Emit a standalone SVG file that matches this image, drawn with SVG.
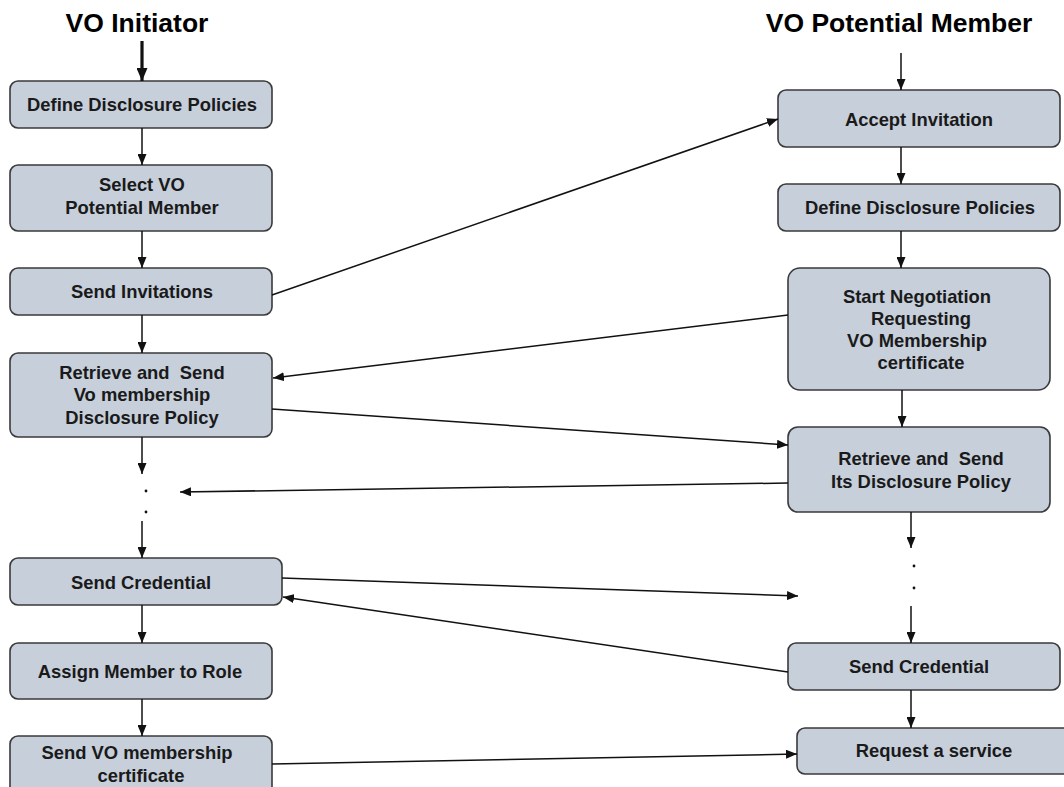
<svg xmlns="http://www.w3.org/2000/svg" width="1064" height="787" viewBox="0 0 1064 787">
<defs>
<marker id="ah" markerUnits="userSpaceOnUse" markerWidth="11" markerHeight="9" refX="11" refY="4.5" orient="auto"><path d="M0,0 L11,4.5 L0,9 z" fill="#111"/></marker>
<marker id="ahb" markerUnits="userSpaceOnUse" markerWidth="13" markerHeight="11" refX="13" refY="5.5" orient="auto"><path d="M0,0 L13,5.5 L0,11 z" fill="#111"/></marker>
</defs>
<style>
.box{fill:#c6cfda;stroke:#3a3a3a;stroke-width:1.6}
.t{font-family:"Liberation Sans",Arial,sans-serif;font-weight:bold;font-size:18.4px;fill:#1a1a1a;text-anchor:middle}
.title{font-family:"Liberation Sans",Arial,sans-serif;font-weight:bold;font-size:26.5px;fill:#000;text-anchor:middle}
.c{stroke:#111;stroke-width:1.5;fill:none;marker-end:url(#ah)}
.dot{fill:#111}
</style>
<rect width="1064" height="787" fill="#fff"/>
<text class="title" x="137" y="32">VO Initiator</text>
<text class="title" x="899" y="32">VO Potential Member</text>

<g id="l1"><rect class="box" x="10" y="81" width="262" height="47" rx="8"/><text class="t" x="142" y="111">Define Disclosure Policies</text></g>
<g id="l2"><rect class="box" x="10" y="165" width="262" height="66" rx="8"/><text class="t" x="142" y="191">Select VO</text><text class="t" x="142" y="214">Potential Member</text></g>
<g id="l3"><rect class="box" x="10" y="268" width="262" height="47" rx="8"/><text class="t" x="142" y="298">Send Invitations</text></g>
<g id="l4"><rect class="box" x="10" y="353" width="262" height="84" rx="8"/><text class="t" x="142" y="379" xml:space="preserve">Retrieve and  Send</text><text class="t" x="142" y="401">Vo membership</text><text class="t" x="142" y="424">Disclosure Policy</text></g>
<g id="l5"><rect class="box" x="10" y="558" width="272" height="47" rx="8"/><text class="t" x="141" y="589">Send Credential</text></g>
<g id="l6"><rect class="box" x="10" y="643" width="262" height="56" rx="8"/><text class="t" x="140" y="678">Assign Member to Role</text></g>
<g id="l7"><rect class="box" x="10" y="736" width="262" height="60" rx="8"/><text class="t" x="137" y="759">Send VO membership</text><text class="t" x="141" y="782">certificate</text></g>

<g id="r1"><rect class="box" x="778" y="90" width="282" height="57" rx="8"/><text class="t" x="919" y="126">Accept Invitation</text></g>
<g id="r2"><rect class="box" x="778" y="184" width="282" height="47" rx="8"/><text class="t" x="920" y="214">Define Disclosure Policies</text></g>
<g id="r3"><rect class="box" x="788" y="268" width="262" height="122" rx="12"/><text class="t" x="917" y="303">Start Negotiation</text><text class="t" x="921" y="325">Requesting</text><text class="t" x="917" y="347">VO Membership</text><text class="t" x="921" y="369">certificate</text></g>
<g id="r4"><rect class="box" x="788" y="427" width="262" height="85" rx="10"/><text class="t" x="921" y="465" xml:space="preserve">Retrieve and  Send</text><text class="t" x="921" y="488">Its Disclosure Policy</text></g>
<g id="r5"><rect class="box" x="788" y="643" width="272" height="47" rx="8"/><text class="t" x="919" y="673">Send Credential</text></g>
<g id="r6"><rect class="box" x="797" y="728" width="275" height="46" rx="8"/><text class="t" x="934" y="757">Request a service</text></g>

<g id="dots">
<circle class="dot" cx="146" cy="491" r="1.4"/><circle class="dot" cx="146" cy="512" r="1.4"/>
<circle class="dot" cx="914" cy="566" r="1.4"/><circle class="dot" cx="914" cy="588" r="1.4"/>
</g>

<g id="connectors">
<line x1="142" y1="41" x2="142" y2="81" stroke="#111" stroke-width="3.2" marker-end="url(#ahb)"/>
<line class="c" x1="142" y1="128" x2="142" y2="165"/>
<line class="c" x1="142" y1="231" x2="142" y2="268"/>
<line class="c" x1="142" y1="315" x2="142" y2="353"/>
<line class="c" x1="142" y1="437" x2="142" y2="474"/>
<line class="c" x1="142" y1="521" x2="142" y2="558"/>
<line class="c" x1="142" y1="605" x2="142" y2="643"/>
<line class="c" x1="142" y1="699" x2="142" y2="736"/>

<line class="c" x1="901" y1="53" x2="901" y2="90"/>
<line class="c" x1="901" y1="147" x2="901" y2="184"/>
<line class="c" x1="901" y1="231" x2="901" y2="268"/>
<line class="c" x1="902" y1="390" x2="902" y2="427"/>
<line class="c" x1="911" y1="512" x2="911" y2="548"/>
<line class="c" x1="911" y1="606" x2="911" y2="643"/>
<line class="c" x1="911" y1="690" x2="911" y2="728"/>

<line class="c" x1="272" y1="295" x2="778" y2="119"/>
<line class="c" x1="788" y1="315" x2="273" y2="378"/>
<line class="c" x1="272" y1="409" x2="788" y2="445"/>
<line class="c" x1="788" y1="483" x2="180" y2="492"/>
<line class="c" x1="282" y1="578" x2="798" y2="596"/>
<line class="c" x1="788" y1="672" x2="283" y2="597"/>
<line class="c" x1="272" y1="764" x2="797" y2="754"/>
</g>
</svg>
